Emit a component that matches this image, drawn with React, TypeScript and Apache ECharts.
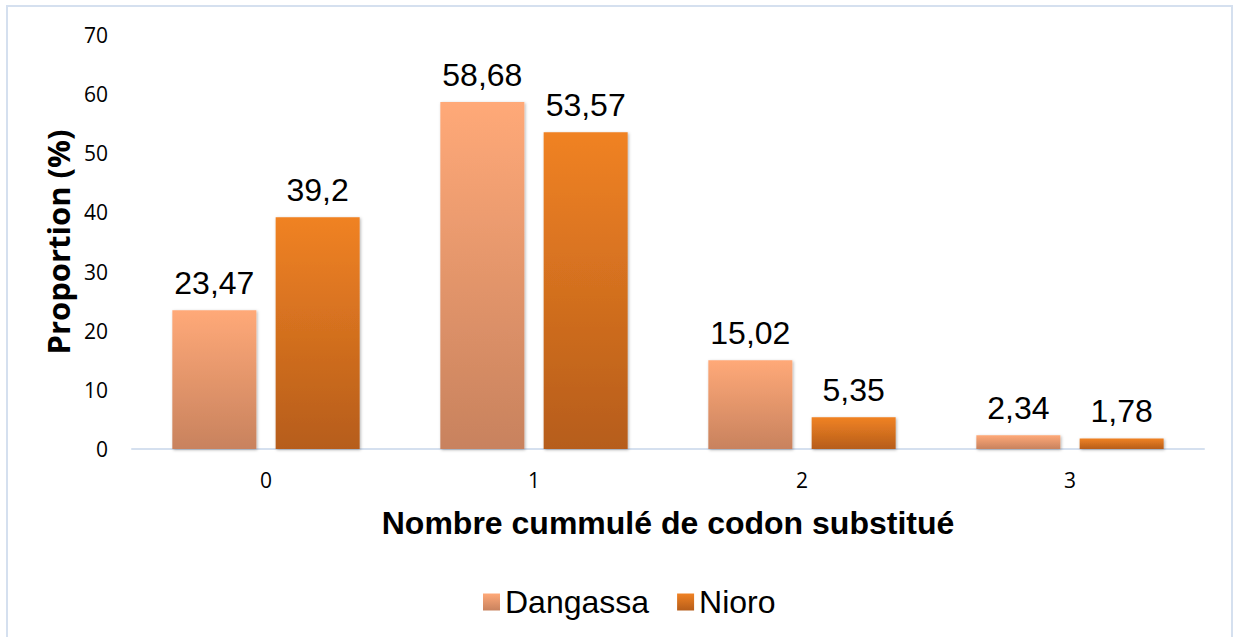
import React, { useEffect, useRef } from "react";
import * as echarts from "echarts";

const categories = ["0", "1", "2", "3"];
const dangassa = [23.47, 58.68, 15.02, 2.34];
const nioro = [39.2, 53.57, 5.35, 1.78];
const seriesNames = ["Dangassa", "Nioro"];
const yTicks = { min: 0, max: 70, interval: 10 };

const fmt = (v: number) => String(v).replace(".", ",");

export default function App() {
  const ref = useRef<HTMLDivElement>(null);
  useEffect(() => {
    if (!ref.current) return;
    const chart = echarts.init(ref.current, undefined, { renderer: "svg" });
    const gradD = new echarts.graphic.LinearGradient(0, 0, 0, 1, [
      { offset: 0, color: "#FFA978" },
      { offset: 1, color: "#C8825E" },
    ]);
    const gradN = new echarts.graphic.LinearGradient(0, 0, 0, 1, [
      { offset: 0, color: "#F08224" },
      { offset: 1, color: "#B65D1A" },
    ]);
    const labelStyle = {
      show: true,
      position: "top" as const,
      distance: 11,
      fontFamily: "Liberation Sans, Arial, sans-serif",
      fontSize: 32,
      color: "#000",
      formatter: (p: any) => fmt(p.value),
    };
    const shadow = {
      shadowBlur: 3,
      shadowColor: "rgba(0,0,0,0.3)",
      shadowOffsetX: 1,
      shadowOffsetY: 1,
    };
    chart.setOption({
      animation: false,
      backgroundColor: "#fff",
      graphic: [
        {
          type: "rect",
          shape: { x: 7, y: 6, width: 1225, height: 650 },
          style: { fill: "none", stroke: "#D5E0EF", lineWidth: 2 },
          silent: true,
        },
      ],
      grid: { left: 132, right: 29, top: 35, bottom: 188 },
      legend: {
        top: 581,
        left: 478,
        itemWidth: 17,
        itemHeight: 17,
        itemGap: 28,
        textStyle: { fontFamily: "Liberation Sans, Arial, sans-serif", fontSize: 32, color: "#000" },
        data: seriesNames,
        icon: "rect",
      },
      xAxis: {
        type: "category",
        data: categories,
        name: "Nombre cummulé de codon substitué",
        nameLocation: "middle",
        nameGap: 58,
        nameTextStyle: { fontFamily: "Liberation Sans, Arial, sans-serif", fontSize: 32, fontWeight: "bold", color: "#000" },
        axisLine: { lineStyle: { color: "#D5E0EF", width: 2 } },
        axisTick: { show: false },
        axisLabel: { margin: 20, fontFamily: "Open Sans, sans-serif", fontSize: 21, color: "#000" },
      },
      yAxis: {
        type: "value",
        min: yTicks.min,
        max: yTicks.max,
        interval: yTicks.interval,
        name: "Proportion (%)",
        nameLocation: "middle",
        nameGap: 55,
        nameTextStyle: { fontFamily: "Open Sans, sans-serif", fontSize: 31, fontWeight: "bold", color: "#000" },
        axisLine: { show: false },
        axisTick: { show: false },
        splitLine: { show: false },
        axisLabel: { margin: 24, fontFamily: "Open Sans, sans-serif", fontSize: 21, color: "#000" },
      },
      series: [
        {
          name: seriesNames[0],
          type: "bar",
          data: dangassa,
          barWidth: 84,
          barGap: "23%",
          itemStyle: { color: gradD, ...shadow },
          label: labelStyle,
        },
        {
          name: seriesNames[1],
          type: "bar",
          data: nioro,
          barWidth: 84,
          barGap: "23%",
          itemStyle: { color: gradN, ...shadow },
          label: labelStyle,
        },
      ],
    });
    return () => chart.dispose();
  }, []);
  return (
    <div
      ref={ref}
      style={{ position: "fixed", left: 0, top: 0, width: 1233, height: 637 }}
    />
  );
}
